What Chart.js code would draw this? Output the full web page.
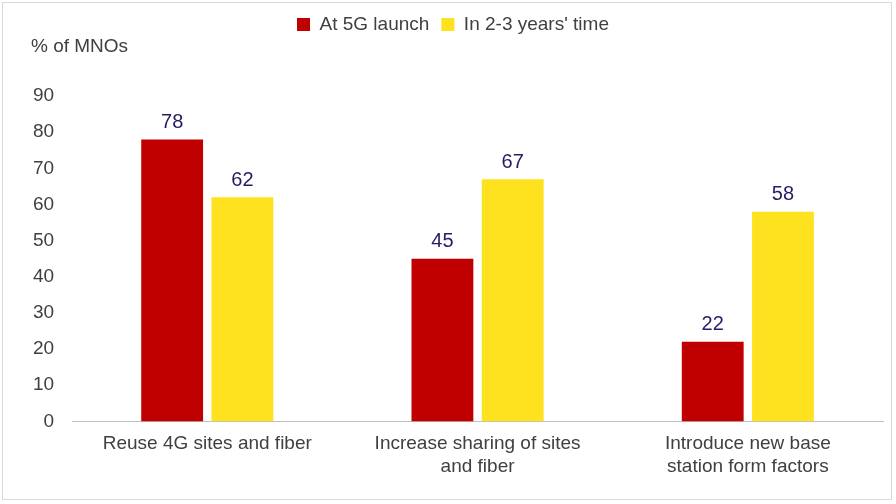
<!DOCTYPE html>
<html>
<head>
<script src="https://cdn.jsdelivr.net/npm/chart.js@4"></script>
<style>
  body { margin: 0; background: #fff; }
  #wrap { position: absolute; left: 2px; top: 2px; width: 890px; height: 498px; border: 1px solid #d9d9d9; box-sizing: border-box; }
</style>
</head>
<body>
<div id="wrap"><canvas id="c"></canvas></div>
<script>
var categories = [["Reuse 4G sites and fiber"], ["Increase sharing of sites", "and fiber"], ["Introduce new base", "station form factors"]];
var launchValues = [78, 45, 22];
var laterValues = [62, 67, 58];
var seriesNames = ["At 5G launch", "In 2-3 years' time"];

Chart.defaults.font.family = "Arial, 'Liberation Sans', sans-serif";
Chart.defaults.color = "#404040";

// value labels above bars + axis title in the corner
var labelPlugin = {
  id: 'labels',
  afterDatasetsDraw: function (chart) {
    var ctx = chart.ctx;
    ctx.save();
    ctx.font = "20px Arial, 'Liberation Sans', sans-serif";
    ctx.fillStyle = "#2a1a66";
    ctx.textAlign = "center";
    ctx.textBaseline = "bottom";
    chart.data.datasets.forEach(function (ds, i) {
      chart.getDatasetMeta(i).data.forEach(function (bar, j) {
        ctx.fillText(ds.data[j], bar.x, bar.y - 7);
      });
    });
    ctx.font = "19px Arial, 'Liberation Sans', sans-serif";
    ctx.fillStyle = "#404040";
    ctx.textAlign = "left";
    ctx.textBaseline = "middle";
    ctx.fillText("% of MNOs", 28, 44);
    ctx.restore();
  }
};

new Chart(document.getElementById('c'), {
  type: 'bar',
  data: {
    labels: categories,
    datasets: [
      { label: seriesNames[0], data: launchValues, backgroundColor: '#c00000' },
      { label: seriesNames[1], data: laterValues, backgroundColor: '#ffe21f' }
    ]
  },
  options: {
    responsive: true,
    maintainAspectRatio: false,
    animation: false,
    layout: { padding: { left: 20, right: 8, top: 0, bottom: 18 } },
    datasets: { bar: { categoryPercentage: 0.52, barPercentage: 0.88 } },
    plugins: {
      legend: {
        position: 'top',
        labels: { boxWidth: 13, boxHeight: 13, font: { size: 19 }, color: '#404040', padding: 12 }
      },
      tooltip: { enabled: false }
    },
    scales: {
      y: {
        min: 0, max: 90,
        ticks: { stepSize: 10, font: { size: 19 }, color: '#404040', padding: 10 },
        grid: { display: false },
        border: { display: false }
      },
      x: {
        ticks: { font: { size: 19 }, color: '#404040', maxRotation: 0, autoSkip: false },
        grid: { display: false },
        border: { color: '#bfbfbf', width: 1 }
      }
    }
  },
  plugins: [labelPlugin, {
    id: 'legendGap',
    beforeInit: function (chart) {
      var fit = chart.legend.fit;
      chart.legend.fit = function () { fit.call(this); this.height += 52; };
    }
  }]
});
</script>
</body>
</html>
